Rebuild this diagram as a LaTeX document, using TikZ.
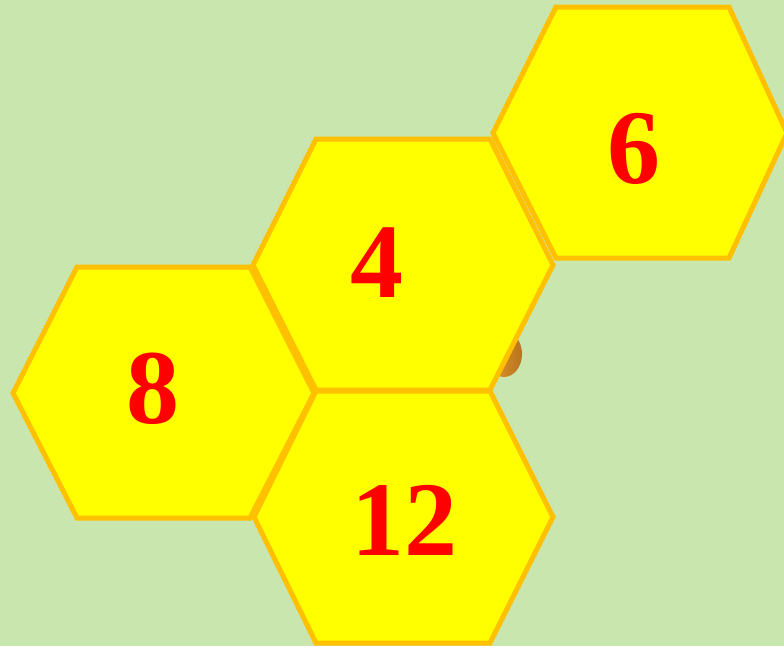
\documentclass[tikz,border=0pt]{standalone}
\usepackage{fontspec}
\setmainfont{Liberation Serif}
\definecolor{bg}{HTML}{C9E6AE}
\definecolor{hexfill}{HTML}{FFFF00}
\definecolor{hexline}{HTML}{FFC000}
\definecolor{numred}{HTML}{FF0000}
\definecolor{blob}{HTML}{E39A2E}
\definecolor{blobdark}{HTML}{B8741E}
\tikzset{
  hexcell/.style={fill=hexfill, draw=hexline, line width=5pt, line join=miter},
  numlabel/.style={text=numred, font=\fontsize{106}{106}\selectfont\bfseries, anchor=base, inner sep=0pt}
}
\begin{document}
\begin{tikzpicture}[x=1pt,y=-1pt]
\fill[bg] (0,0) rectangle (784,646);
\useasboundingbox (0,0) rectangle (784,646);
\begin{scope}
\clip (0,0) rectangle (784,646);
% small orange blob behind hex 4
\shade[left color=blob, right color=blobdark] (504,354) ellipse (18 and 23);
% hex 6
\draw[hexcell] (556,7) -- (729,7) -- (787,133) -- (729,258) -- (556,258) -- (493,133) -- cycle;
% hex 8
\draw[hexcell] (77,267) -- (250,267) -- (314,393) -- (250,518) -- (77,518) -- (13,393) -- cycle;
% hex 4
\draw[hexcell] (316,139) -- (490,139) -- (553,265) -- (490,390) -- (316,390) -- (253,265) -- cycle;
% hex 12
\draw[hexcell] (316,391) -- (490,391) -- (553,517) -- (490,643) -- (316,643) -- (254,517) -- cycle;
\end{scope}
\node[numlabel] (n6) at (634,183) {6};
\node[numlabel] (n4) at (377,297) {4};
\node[numlabel] (n8) at (153,423) {8};
\node[numlabel] (n12) at (404,555) {12};
\end{tikzpicture}
\end{document}
